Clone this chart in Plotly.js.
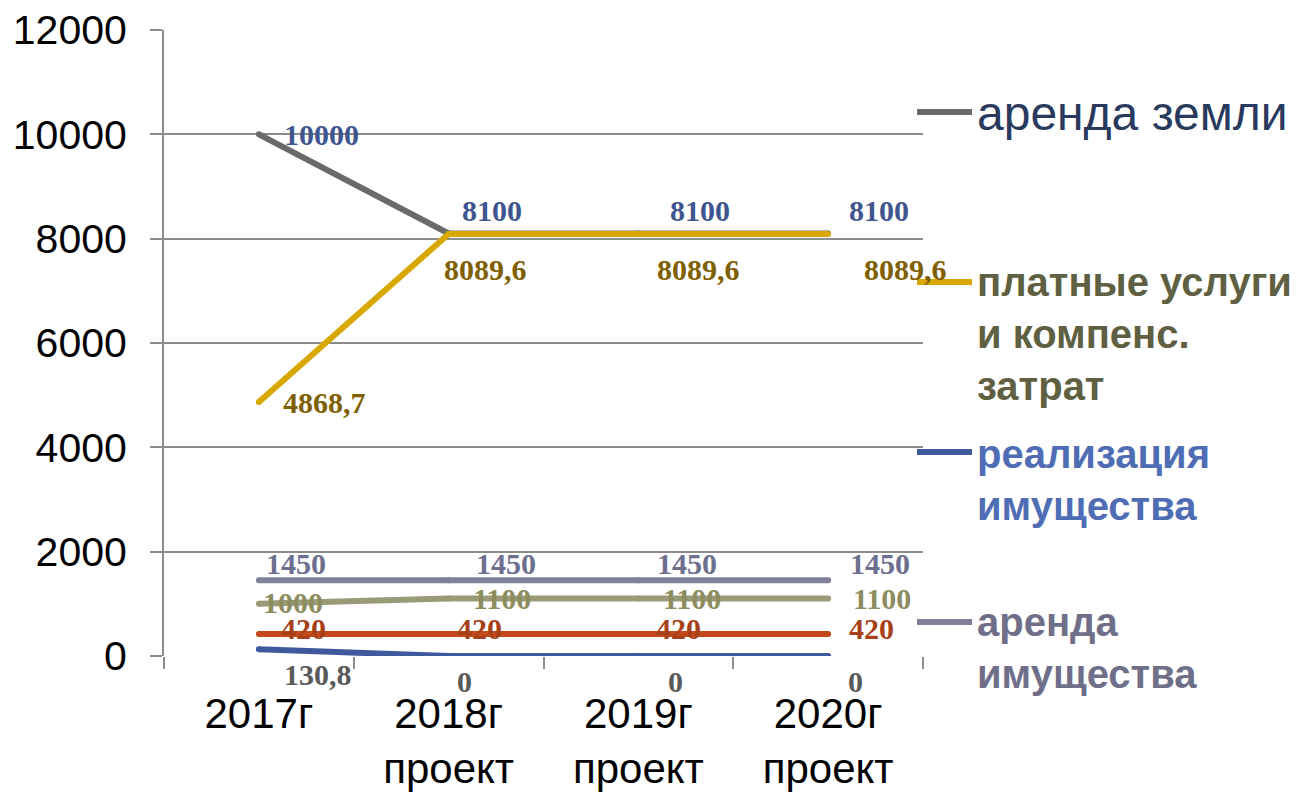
<!DOCTYPE html>
<html>
<head>
<meta charset="utf-8">
<script src="https://cdn.plot.ly/plotly-3.0.1.min.js"></script>
<style>html,body{margin:0;padding:0;background:#fff;}#chart{width:1314px;height:792px;}</style>
</head>
<body>
<div id="chart"></div>
<script>
// ---- data ----
const categories = ['2017г', '2018г<br>проект', '2019г<br>проект', '2020г<br>проект'];
const arendaZemli = [10000, 8100, 8100, 8100];
const platnyeUslugi = [4868.7, 8089.6, 8089.6, 8089.6];
const realizaciyaImushchestva = [130.8, 0, 0, 0];
const arendaImushchestva = [1450, 1450, 1450, 1450];
const series5 = [1000, 1100, 1100, 1100];
const series6 = [420, 420, 420, 420];
const yTickValues = [0, 2000, 4000, 6000, 8000, 10000, 12000];
const legendLabels = ['аренда земли', 'платные услуги<br>и компенс.<br>затрат', 'реализация<br>имущества', 'аренда<br>имущества'];

// ---- styling ----
const series = [
  {y: series6, color: '#C5481C', label: '#A8401A', dx: [45,31,40,43], dy: [-6,-6,-6,-6]},
  {y: realizaciyaImushchestva, color: '#3F5A9C', label: '#595959', dx: [59,16,37,27], dy: [25,25,25,25]},
  {y: series5, color: '#9A9A78', label: '#8C8C5E', dx: [34,53,54,54], dy: [-1,0,0,0]},
  {y: arendaImushchestva, color: '#80809A', label: '#6E6E8E', dx: [37,57,49,52], dy: [-17,-17,-17,-17]},
  {y: arendaZemli, color: '#6A6A6A', label: '#3F558F', dx: [63,43,62,51], dy: [0,-23,-23,-23]},
  {y: platnyeUslugi, color: '#D9A800', label: '#7F6000', dx: [66,37,60,77], dy: [0,36,36,36]}
];

const fmt = v => String(v).replace('.', ',');

const traces = series.map(s => ({
  type: 'scatter', mode: 'lines+markers', x: categories, y: s.y,
  line: {color: s.color, width: 6},
  marker: {color: s.color, size: 6},
  showlegend: false, hoverinfo: 'skip'
}));

const annotations = [];
series.forEach(s => {
  s.y.forEach((v, i) => {
    annotations.push({
      x: categories[i], y: v, xref: 'x', yref: 'y',
      text: fmt(v), showarrow: false, borderpad: 0,
      xanchor: 'center', yanchor: 'middle',
      xshift: s.dx[i], yshift: -s.dy[i],
      font: {family: 'Liberation Serif, Times New Roman, serif', size: 30, color: s.label, weight: 'bold'}
    });
  });
});

// custom legend
const L = 164, R = 923, T = 30, B = 656;
const px = p => (p - L) / (R - L);
const py = p => (B - p) / (B - T);
const legendItems = [
  {text: legendLabels[0], line: '#6A6A6A', color: '#2A3A5E', ly: 112, top: 85, size: 48, bold: false},
  {text: legendLabels[1], line: '#D9A800', color: '#5F5F42', ly: 282, top: 258, size: 40, bold: true},
  {text: legendLabels[2], line: '#3F5A9C', color: '#4F6DB5', ly: 452, top: 430, size: 40, bold: true},
  {text: legendLabels[3], line: '#80809A', color: '#6F6F8A', ly: 622, top: 598, size: 40, bold: true}
];
const shapes = [];
legendItems.forEach(it => {
  shapes.push({type: 'line', xref: 'paper', yref: 'paper', x0: px(917), x1: px(972), y0: py(it.ly), y1: py(it.ly),
    line: {color: it.line, width: 6}});
  annotations.push({
    xref: 'paper', yref: 'paper', x: px(975), y: py(it.top), xanchor: 'left', yanchor: 'top', align: 'left',
    text: it.bold ? '<b>' + it.text + '</b>' : it.text, showarrow: false,
    font: {family: 'Liberation Sans, Arial, sans-serif', size: it.size, color: it.color}
  });
});

const layout = {
  width: 1314, height: 792,
  margin: {l: L, r: 1314 - R, t: T, b: 792 - B, pad: 0},
  paper_bgcolor: '#fff', plot_bgcolor: '#fff',
  showlegend: false,
  xaxis: {
    type: 'category', range: [-0.5, 3.5], tickson: 'boundaries',
    ticks: 'outside', ticklen: 12, tickwidth: 2, tickcolor: '#8c8c8c',
    showline: false, showgrid: false, zeroline: false,
    tickfont: {family: 'Liberation Sans, Arial, sans-serif', size: 42, color: '#000'},
    ticklabelstandoff: 29, fixedrange: true
  },
  yaxis: {
    range: [0, 12000], tickvals: yTickValues, ticktext: yTickValues.map(String),
    ticks: 'outside', ticklen: 12, tickwidth: 2, tickcolor: '#8c8c8c',
    showgrid: true, gridcolor: '#8c8c8c', gridwidth: 2,
    showline: true, linecolor: '#8c8c8c', linewidth: 2,
    zeroline: false,
    tickfont: {family: 'Liberation Sans, Arial, sans-serif', size: 41, color: '#000'},
    ticklabelstandoff: 15, fixedrange: true
  },
  shapes: shapes,
  annotations: annotations
};

Plotly.newPlot('chart', traces, layout, {displayModeBar: false, staticPlot: true});
</script>
</body>
</html>
